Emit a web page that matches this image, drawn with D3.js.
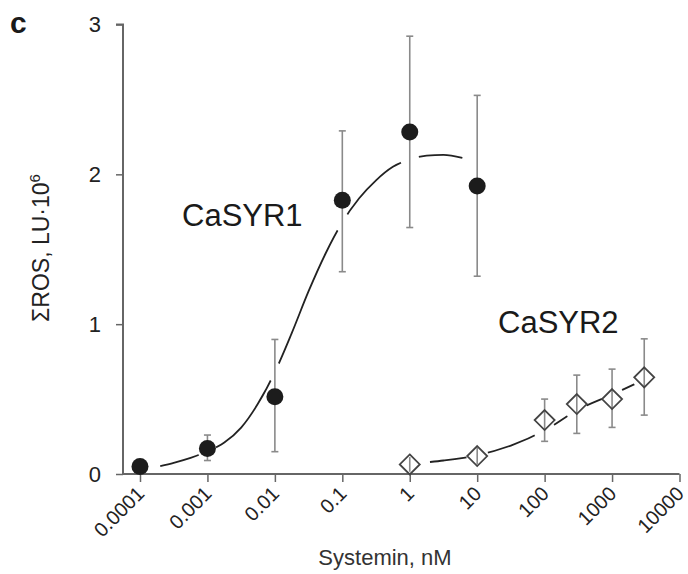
<!DOCTYPE html>
<html>
<head>
<meta charset="utf-8">
<script src="https://cdn.jsdelivr.net/npm/d3@7"></script>
<style>
  body { margin: 0; background: #fff; }
  text { font-family: "Liberation Sans", Arial, sans-serif; }
</style>
</head>
<body>
<svg id="chart" width="688" height="574"></svg>
<script>
// CaSYR1 responses (mean ± error) by systemin concentration, nM
const conc1 = [0.0001, 0.001, 0.01, 0.1, 1, 10];
const ros1 = [0.05, 0.17, 0.515, 1.827, 2.282, 1.922];
const ros1Low = [0.05, 0.09, 0.149, 1.35, 1.645, 1.32];
const ros1High = [0.05, 0.26, 0.898, 2.29, 2.922, 2.527];

// CaSYR2 responses
const conc2 = [1, 10, 100, 300, 1000, 3000];
const ros2 = [0.064, 0.12, 0.36, 0.467, 0.50, 0.645];
const ros2Low = [0.015, 0.065, 0.218, 0.271, 0.311, 0.393];
const ros2High = [0.113, 0.175, 0.50, 0.66, 0.70, 0.902];

// Fitted dose-response curves: log10(concentration, nM) and ΣROS
const fit1LogX = [-3.70, -3.5, -3.25, -3.0, -2.75, -2.5, -2.25, -2.0, -1.75, -1.5, -1.25, -1.0, -0.75, -0.5, -0.25, 0, 0.25, 0.5, 0.78];
const fit1Y    = [0.053, 0.075, 0.108, 0.15, 0.21, 0.31, 0.47, 0.68, 0.94, 1.22, 1.47, 1.68, 1.84, 1.96, 2.05, 2.10, 2.125, 2.13, 2.11];
const fit2LogX = [0.3, 0.5, 1.0, 1.5, 2.0, 2.5, 3.0, 3.477];
const fit2Y    = [0.08, 0.09, 0.125, 0.19, 0.29, 0.43, 0.53, 0.63];

const xTicks = [0.0001, 0.001, 0.01, 0.1, 1, 10, 100, 1000, 10000];
const xTickLabels = ["0.0001", "0.001", "0.01", "0.1", "1", "10", "100", "1000", "10000"];
const yTicks = [0, 1, 2, 3];

const svg = d3.select("#chart");

const x = d3.scaleLog().domain([0.0001, 10000]).range([140, 679.5]);
const y = d3.scaleLinear().domain([0, 3]).range([474, 24.5]);
const axisLeftX = 123;

const axisColor = "#666";
const textColor = "#222";

// Panel letter
svg.append("text").attr("x", 10).attr("y", 33)
  .attr("font-size", 30).attr("font-weight", "bold").attr("fill", "#1a1a1a").text("c");

// Y axis
const yAxis = svg.append("g")
  .attr("transform", `translate(${axisLeftX},0)`)
  .call(d3.axisLeft(y).tickValues(yTicks).tickFormat(d3.format("d")).tickSize(7).tickPadding(15));
yAxis.select(".domain").attr("d", `M-7,${y(3)}H0V${y(0)}`).attr("stroke", axisColor).attr("stroke-width", 2);
yAxis.selectAll(".tick line").attr("stroke", axisColor).attr("stroke-width", 1.5);
yAxis.selectAll(".tick text").attr("font-size", 22).attr("fill", textColor)
  .style("font-family", "'Liberation Sans', Arial, sans-serif");

// X axis
const xAxis = svg.append("g")
  .attr("transform", `translate(0,${y(0)})`)
  .call(d3.axisBottom(x).tickValues(xTicks).tickFormat((d, i) => xTickLabels[i]).tickSize(8));
xAxis.select(".domain").attr("d", `M${axisLeftX},0H${x(10000)}`).attr("stroke", axisColor).attr("stroke-width", 2);
xAxis.selectAll(".tick line").attr("stroke", axisColor).attr("stroke-width", 1.5);
xAxis.selectAll(".tick text")
  .attr("font-size", 20).attr("fill", textColor)
  .style("font-family", "'Liberation Sans', Arial, sans-serif")
  .attr("text-anchor", "end")
  .attr("x", 0).attr("y", 0).attr("dy", 0)
  .attr("transform", "translate(5,21) rotate(-45)");

// Axis titles
svg.append("text")
  .attr("transform", `translate(49,248) rotate(-90)`)
  .attr("text-anchor", "middle").attr("font-size", 23).attr("fill", textColor)
  .html('ΣROS, LU·10<tspan dy="-9" font-size="15">6</tspan>');

svg.append("text").attr("x", 385).attr("y", 565)
  .attr("text-anchor", "middle").attr("font-size", 22).attr("fill", "#333")
  .text("Systemin, nM");

// Fitted curves, interrupted where they pass the data points
function drawFit(logX, vals, concs, gapR, id) {
  const pts = logX.map((lx, i) => [Math.pow(10, lx), vals[i]]);
  const at = d3.scaleLinear().domain(logX).range(vals).clamp(true);
  const mask = svg.append("defs").append("mask").attr("id", id)
    .attr("maskUnits", "userSpaceOnUse").attr("x", 0).attr("y", 0).attr("width", 688).attr("height", 574);
  mask.append("rect").attr("width", 688).attr("height", 574).attr("fill", "#fff");
  mask.selectAll("circle").data(concs).join("circle")
    .attr("cx", d => x(d)).attr("cy", d => y(at(Math.log10(d)))).attr("r", gapR).attr("fill", "#000");
  svg.append("path")
    .datum(pts)
    .attr("d", d3.line().x(d => x(d[0])).y(d => y(d[1])).curve(d3.curveMonotoneX))
    .attr("fill", "none").attr("stroke", "#222").attr("stroke-width", 1.8)
    .attr("mask", `url(#${id})`);
}
drawFit(fit1LogX, fit1Y, conc1, 9.5, "gap1");
drawFit(fit2LogX, fit2Y, conc2, 11, "gap2");

// Error bars
function drawErrors(concs, lows, highs, markerHalf) {
  const g = svg.append("g").attr("stroke", "#8a8a8a").attr("stroke-width", 1.6);
  concs.forEach((c, i) => {
    const cx = x(c);
    if (highs[i] - lows[i] <= 0) return;
    g.append("line").attr("x1", cx).attr("x2", cx).attr("y1", y(lows[i])).attr("y2", y(highs[i]));
    [lows[i], highs[i]].forEach(v => {
      if (Math.abs(y(v) - y((lows[i] + highs[i]) / 2)) > markerHalf) {
        g.append("line").attr("x1", cx - 3.5).attr("x2", cx + 3.5).attr("y1", y(v)).attr("y2", y(v));
      }
    });
  });
}
drawErrors(conc1, ros1Low, ros1High, 8.5);
drawErrors(conc2, ros2Low, ros2High, 10);

// Markers
svg.append("g").selectAll("circle").data(conc1).join("circle")
  .attr("cx", d => x(d)).attr("cy", (d, i) => y(ros1[i])).attr("r", 8.5).attr("fill", "#1c1c1c");

const diamond = "M0,-10L10,0L0,10L-10,0Z";
svg.append("g").selectAll("path").data(conc2).join("path")
  .attr("transform", (d, i) => `translate(${x(d)},${y(ros2[i])})`)
  .attr("d", diamond).attr("fill", "none").attr("stroke", "#444").attr("stroke-width", 1.8);

// Series labels
svg.append("text").attr("x", 182).attr("y", 226).attr("font-size", 31).attr("fill", "#1a1a1a").text("CaSYR1");
svg.append("text").attr("x", 498).attr("y", 333).attr("font-size", 31).attr("fill", "#1a1a1a").text("CaSYR2");
</script>
</body>
</html>
